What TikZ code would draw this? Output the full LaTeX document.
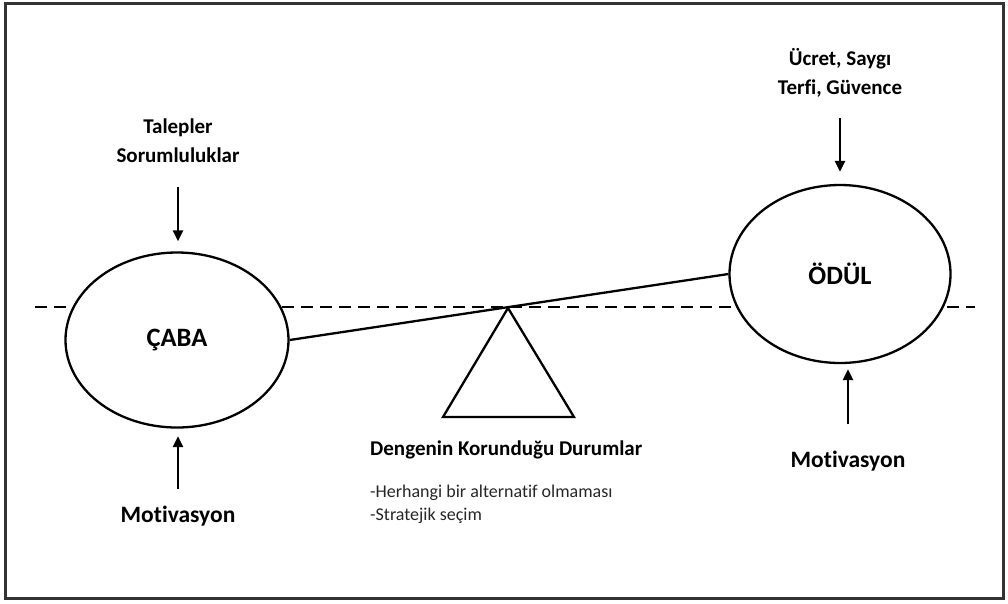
\documentclass[tikz,border=0pt]{standalone}
\usepackage{fontspec}
\setmainfont{Carlito}[Ligatures=NoCommon]
\usetikzlibrary{arrows.meta}
\usetikzlibrary{positioning}
\usetikzlibrary{shapes.geometric}

\begin{document}
\begin{tikzpicture}[x=1pt,y=-1pt]
	\tikzset{
		E/.style={draw,ellipse,line width=2.3pt,fill=white,inner sep=0pt,font=\fontsize{26.5}{30}\selectfont\bfseries},
		L/.style={inner sep=0pt,align=center,font=\fontsize{21}{29}\selectfont\bfseries},
		M/.style={inner sep=0pt,font=\fontsize{23.5}{28}\selectfont\bfseries},
		A/.style={-{Triangle[length=11pt,width=10pt]},line width=2.8pt},
	}
	\useasboundingbox (0,0) rectangle (1008,603);
	\draw[line width=3pt,black!80] (5,3) rectangle (1003,598);
	
	% denge cizgisi
	\draw[dash pattern=on 12pt off 7pt,line width=2.8pt] (35,307) -- (975,307);
	
	\node[E,minimum width=223pt,minimum height=175pt] (caba) at (177,340) {ÇABA};
	\node[E,minimum width=221pt,minimum height=178pt] (odul) at (840,274) {ÖDÜL};
	
	\node[L,anchor=south] (talep) at (178,163) {Talepler\\Sorumluluklar};
	\node[L,anchor=south] (ucret) at (840,98) {Ücret, Saygı\\Terfi, Güvence};
	\node[M,anchor=base] (mot1) at (178,522) {Motivasyon};
	\node[M,anchor=base] (mot2) at (848,467) {Motivasyon};
	
	\draw[A,shorten <=24pt,shorten >=10pt] (talep.south) -- (talep.south |- caba.north);
	\draw[A,shorten <=20pt,shorten >=12pt] (ucret.south) -- (ucret.south |- odul.north);
	\draw[A,shorten <=16pt,shorten >=7.5pt] (mot1.north) -- (mot1.north |- caba.south);
	\draw[A,shorten <=26pt,shorten >=5pt] (mot2.north) -- (mot2.north |- odul.south);
	
	% terazi
	\coordinate (pivot) at (508,308);
	\draw[line width=2.3pt] (caba.east) -- (odul.west);
	\draw[line width=2.3pt] (pivot) -- ++(66,109) -- ++(-131,0) -- cycle;
	
	\node[inner sep=0pt,anchor=base west,font=\fontsize{21}{26}\selectfont\bfseries] (denge) at (370,455) {Dengenin Korunduğu Durumlar};
	\node[inner sep=0pt,anchor=base west,align=left,text=black!85,font=\fontsize{18}{23}\selectfont] (liste) at (370,520) {-Herhangi bir alternatif olmaması\\-Stratejik seçim};
\end{tikzpicture}
\end{document}
